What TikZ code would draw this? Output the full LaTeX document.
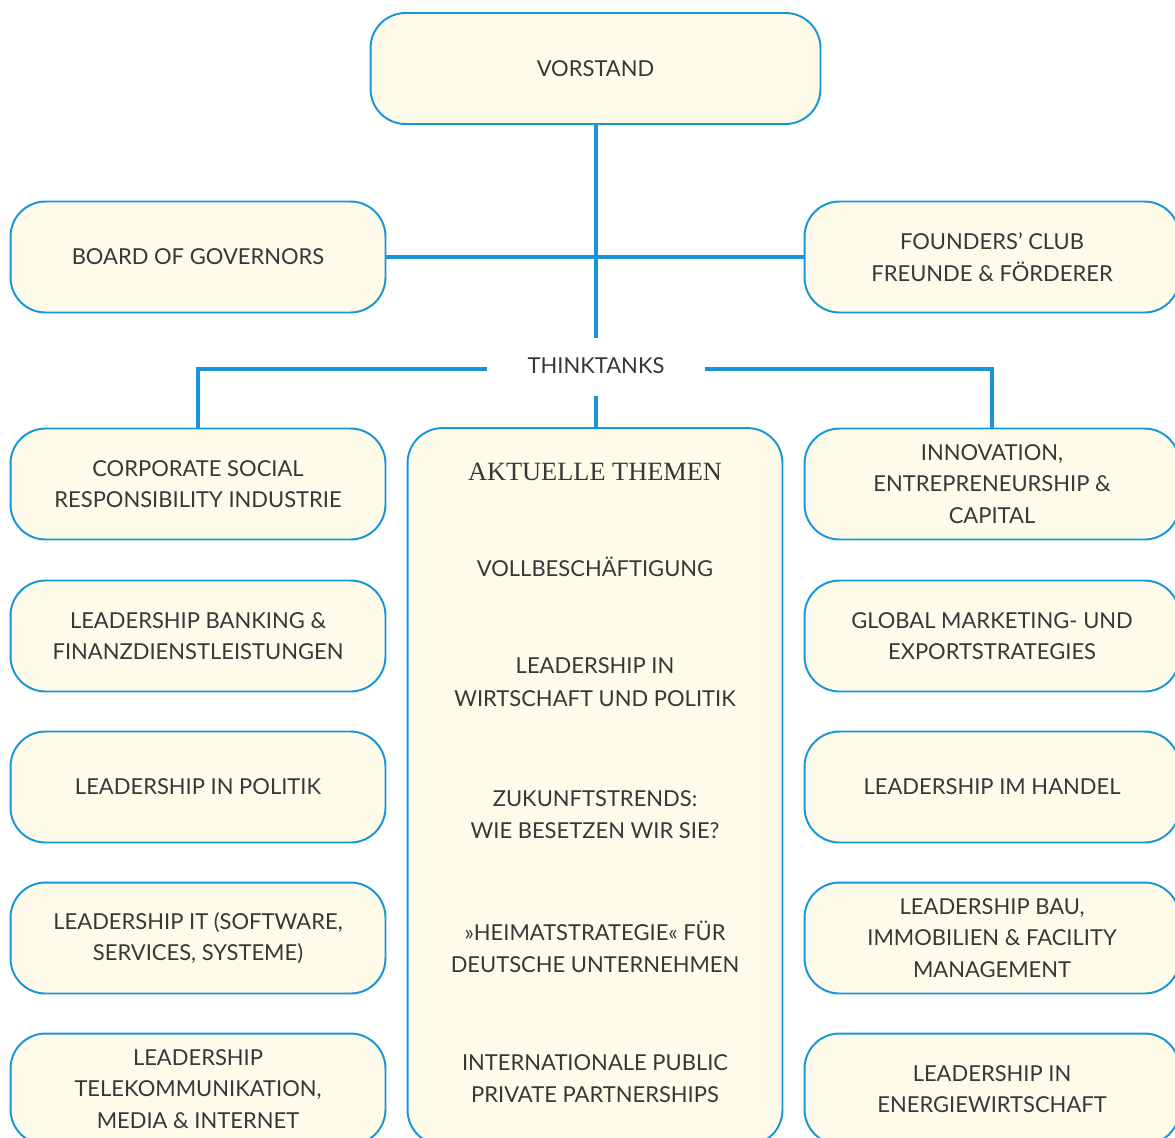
\documentclass[tikz,border=0pt]{standalone}
\usepackage{fontspec}
\setmainfont{Lato}
\newfontfamily\serifx{Liberation Serif}
\definecolor{tblue}{RGB}{22,150,214}
\definecolor{cream}{RGB}{254,251,234}
\definecolor{txt}{RGB}{55,55,55}
\begin{document}
\begin{tikzpicture}[x=0.02cm,y=-0.02cm,
  tbox/.style={draw=tblue, line width=1.1pt, fill=cream, rounded corners=0.7cm,
    minimum width=7.5cm, minimum height=2.22cm, align=center, text=txt,
    font=\fontsize{12.5}{18}\selectfont, inner sep=0pt},
  lbl/.style={align=center, text=txt, font=\fontsize{12.5}{18.5}\selectfont, inner sep=0pt},
  conn/.style={draw=tblue, line width=2.7pt}]
\useasboundingbox (0,0) rectangle (1175,1137);
\clip (0,0) rectangle (1175,1137);
% top level
\node[tbox, minimum width=9.0cm] (vorstand) at (595.5,68.5) {VORSTAND};
\node[tbox] (board) at (198,257) {BOARD OF GOVERNORS};
\node[tbox] (founders) at (992,257) {FOUNDERS’ CLUB\\FREUNDE \& FÖRDERER};
% left column
\node[tbox] (csr) at (198,484) {CORPORATE SOCIAL\\RESPONSIBILITY INDUSTRIE};
\node[tbox] (bank) at (198,636) {LEADERSHIP BANKING \&\\FINANZDIENSTLEISTUNGEN};
\node[tbox] (politik) at (198,787) {LEADERSHIP IN POLITIK};
\node[tbox] (it) at (198,938) {LEADERSHIP IT (SOFTWARE,\\SERVICES, SYSTEME)};
\node[tbox] (tele) at (198,1089) {LEADERSHIP\\TELEKOMMUNIKATION,\\MEDIA \& INTERNET};
% right column
\node[tbox] (innov) at (992,484) {INNOVATION,\\ENTREPRENEURSHIP \&\\CAPITAL};
\node[tbox] (global) at (992,636) {GLOBAL MARKETING- UND\\EXPORTSTRATEGIES};
\node[tbox] (handel) at (992,787) {LEADERSHIP IM HANDEL};
\node[tbox] (bau) at (992,938) {LEADERSHIP BAU,\\IMMOBILIEN \& FACILITY\\MANAGEMENT};
\node[tbox] (energie) at (992,1089) {LEADERSHIP IN\\ENERGIEWIRTSCHAFT};
% center column
\node[tbox, minimum height=14.34cm] (themen) at (595,786.5) {};
\node[lbl, font=\serifx\fontsize{15}{18}\selectfont] (t0) at (595,472) {AKTUELLE THEMEN};
\node[lbl] (t1) at (595,567) {VOLLBESCHÄFTIGUNG};
\node[lbl] (t2) at (595,682) {LEADERSHIP IN\\WIRTSCHAFT UND POLITIK};
\node[lbl] (t3) at (595,814.5) {ZUKUNFTSTRENDS:\\WIE BESETZEN WIR SIE?};
\node[lbl] (t4) at (595,947) {»HEIMATSTRATEGIE« FÜR\\DEUTSCHE UNTERNEHMEN};
\node[lbl] (t5) at (595,1078.5) {INTERNATIONALE PUBLIC\\PRIVATE PARTNERSHIPS};
% thinktanks label
\node[lbl] (think) at (596,366) {THINKTANKS};
\coordinate (vend) at (596,338);
\coordinate (tl) at (487,369);
\coordinate (tr) at (705,369);
\coordinate (tc) at (596,396);
% connectors
\draw[conn] (vorstand.south -| vend) -- (vend);
\draw[conn] (board.east) -- (founders.west);
\draw[conn] (tl) -| (csr.north);
\draw[conn] (tr) -| (innov.north);
\draw[conn] (tc) -- (tc |- themen.north);
\end{tikzpicture}
\end{document}
